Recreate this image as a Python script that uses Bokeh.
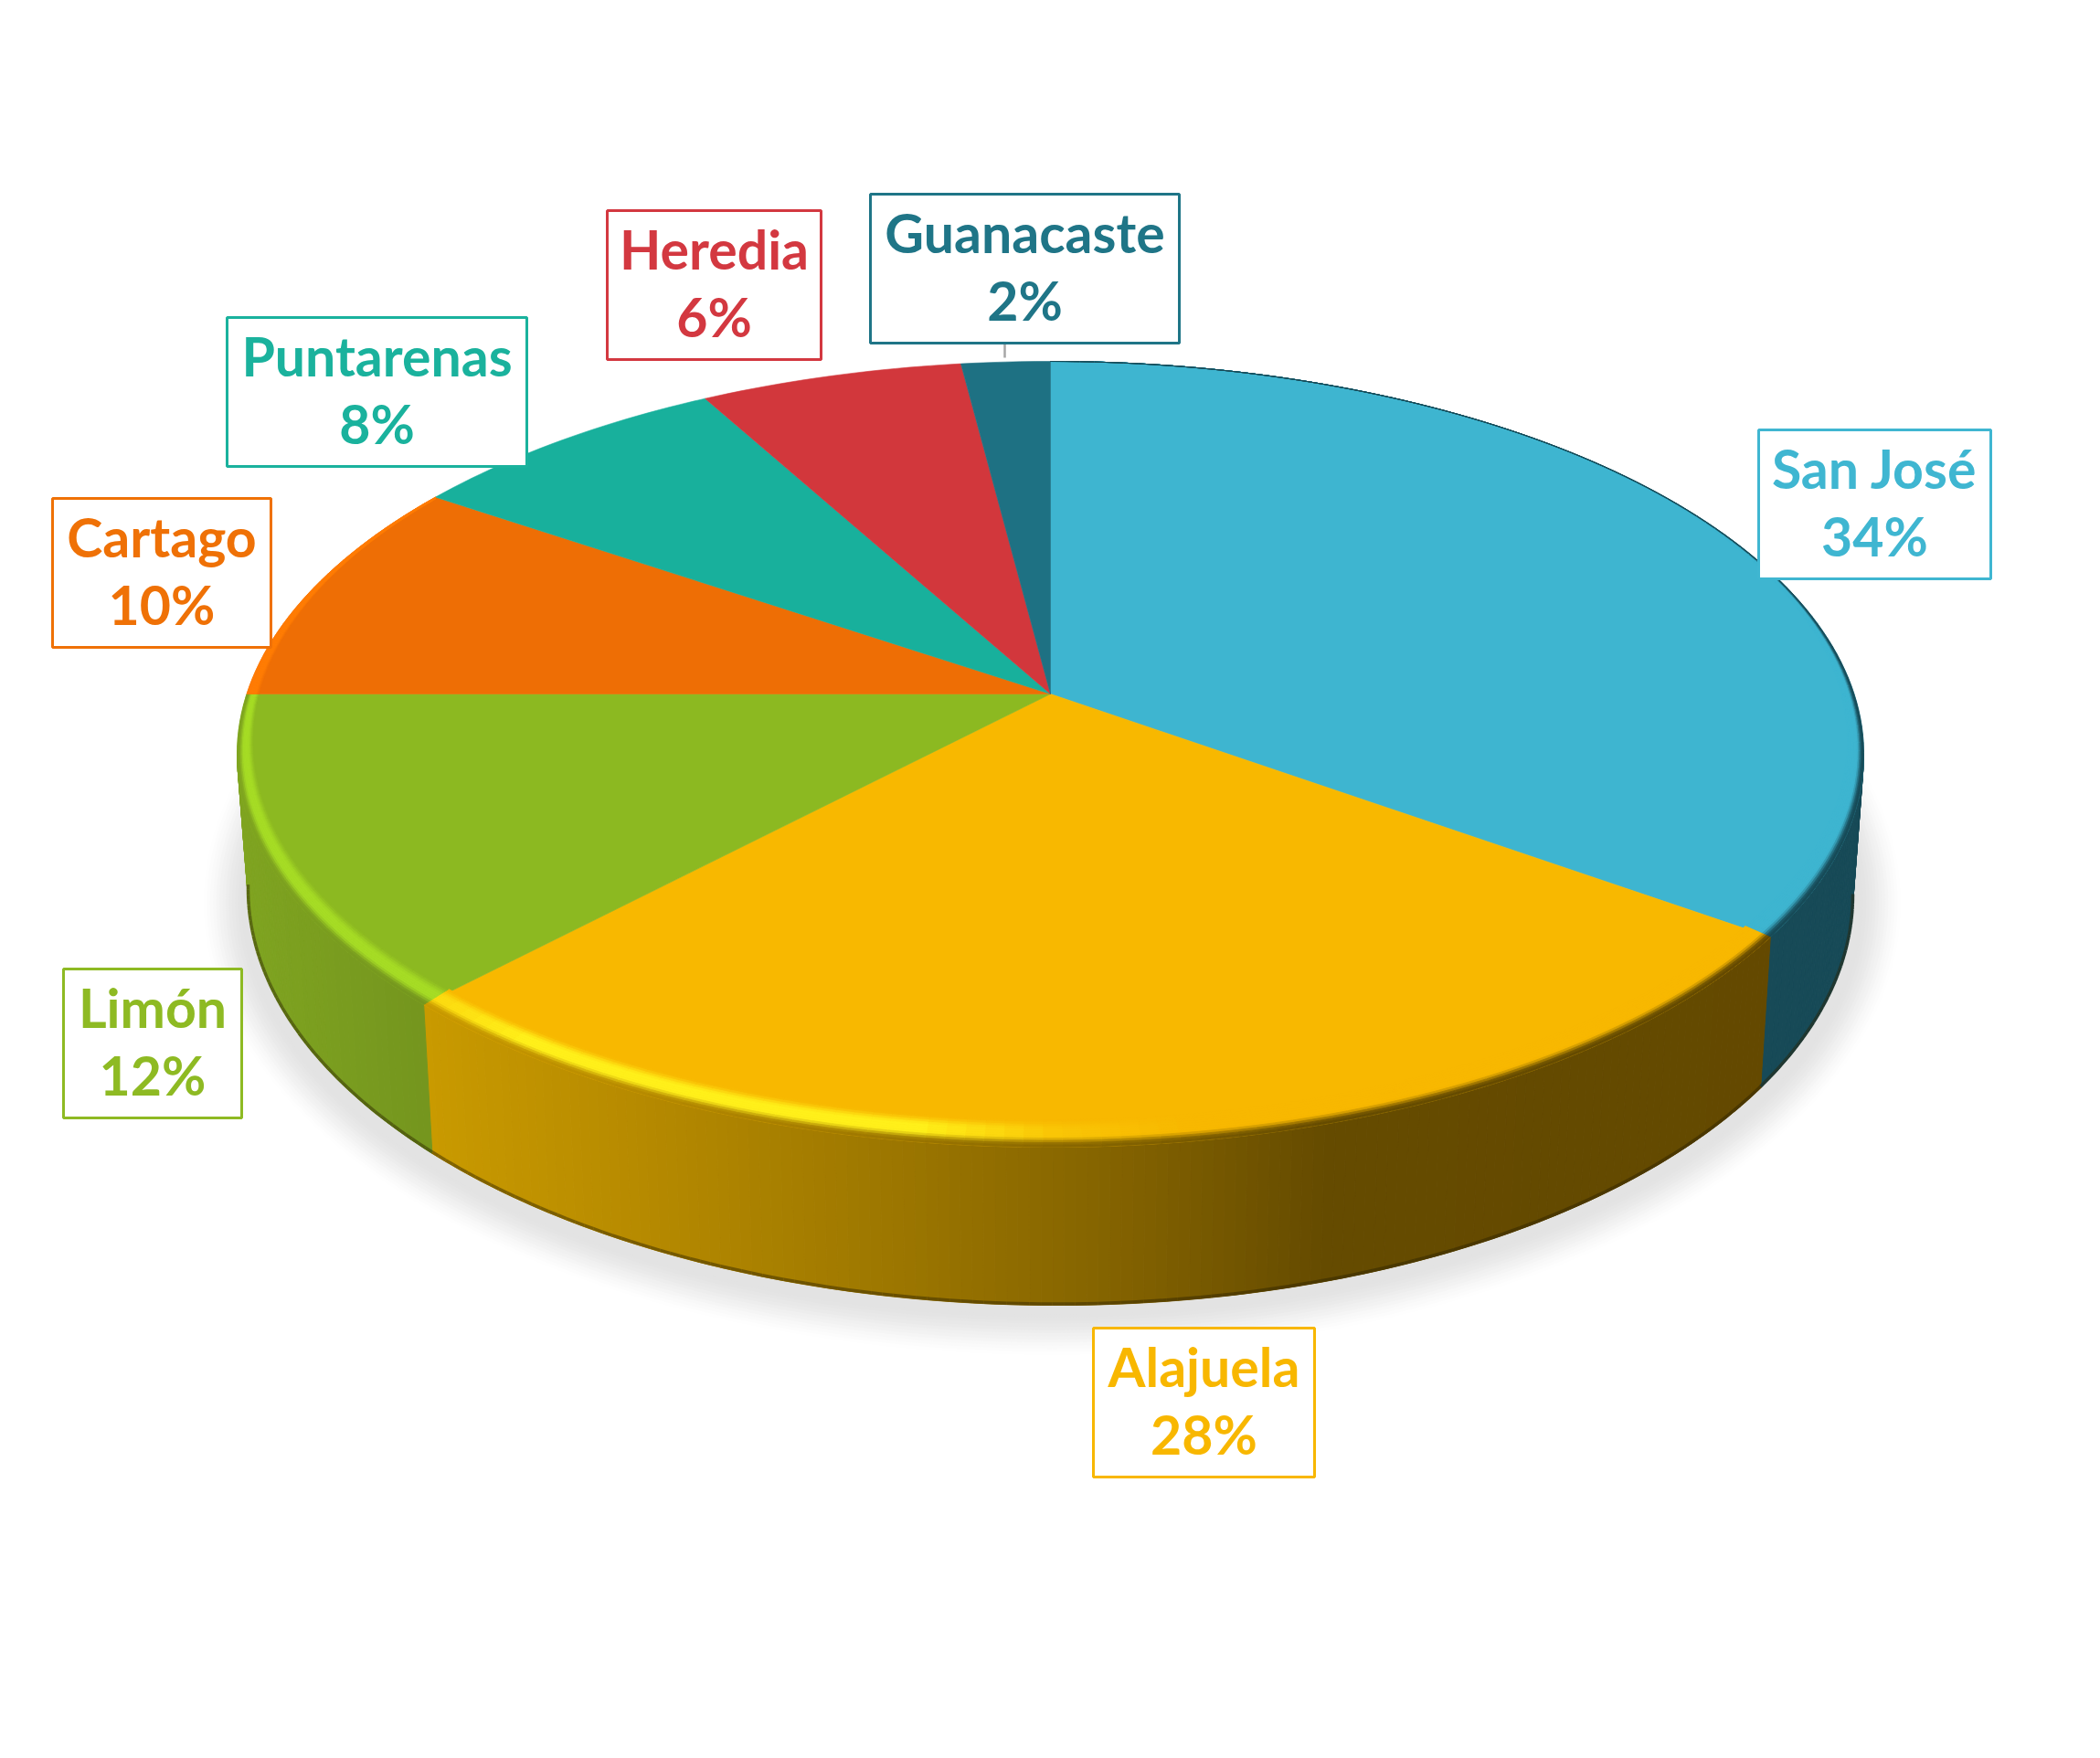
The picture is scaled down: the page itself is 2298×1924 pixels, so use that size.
import numpy as np
from bokeh.plotting import figure
from bokeh.models import Range1d, ColumnDataSource
from bokeh.core.properties import value
from bokeh.embed import file_html
from bokeh.resources import INLINE

# ---- data ----
provinces = ["San José", "Alajuela", "Limón", "Cartago", "Puntarenas", "Heredia", "Guanacaste"]
percent_labels = ["34%", "28%", "12%", "10%", "8%", "6%", "2%"]
shares = [34.8, 27.4, 12.8, 9.4, 7.5, 6.05, 2.05]   # slice sizes as measured on the drawing
face_colors = ["#3eb5d0", "#f8b800", "#8cb921", "#ee6e05", "#18b09c", "#d2373c", "#1e7183"]
text_colors = ["#3fb6d1", "#f8b700", "#8eba23", "#ef7106", "#1ab29d", "#d33840", "#1f7587"]

# ---- layout (page pixels) ----
box_left = [1924, 1196, 69, 57, 248, 664, 952]
box_right = [2178, 1438, 264, 296, 576, 898, 1290]
box_top = [470, 1453, 1060, 545, 347, 230, 212]
box_height = 163
FONT = "Lato"
FONT_SIZE = "59px"

PX, PY = 1149.0, 759.0                     # apex of the slices


def persp(theta, down, up, half_w):
    """circle angle (clockwise from 12 o'clock) -> page pixels, in perspective"""
    a = (down / up - 1) / (down / up + 1)
    b = down * (1 - a)
    aa = half_w * np.sqrt(1 - a * a)
    u, v = np.sin(theta), -np.cos(theta)
    w = 1 - a * v
    return PX + aa * u / w, PY + b * v / w


def outer(t):
    return persp(t, 1255 - PY, PY - 395, 890)


def inner(t):
    return persp(t, 1225 - PY, PY - 395, 872)


def wall_bottom(t):
    x, y = outer(t)
    c = np.clip((x - PX) / 890, -1, 1)
    s = np.sqrt(1 - c * c) * np.where(y >= 825, 1, -1)
    xb = PX + 878 * c
    return xb, 977 + 451 * s + 0.004 * (xb - PX)


def hexrgb(h):
    return np.array([int(h[i:i + 2], 16) for i in (1, 3, 5)], float)


def mix(c1, c2, t):
    t = float(np.clip(t, 0, 1))
    r = hexrgb(c1) * (1 - t) + hexrgb(c2) * t
    return "#%02x%02x%02x" % tuple(int(round(q)) for q in r)


def ramp(stops, x):
    xs = [s[0] for s in stops]
    if x <= xs[0]:
        return stops[0][1]
    for (x0, c0), (x1, c1) in zip(stops, stops[1:]):
        if x <= x1:
            return mix(c0, c1, (x - x0) / (x1 - x0))
    return stops[-1][1]


WALL = {
    0: [(0, "#174a57"), (2300, "#174a57")],
    1: [(463, "#c99a00"), (700, "#b68a00"), (1000, "#9a7500"), (1250, "#806000"), (1450, "#654b00"), (2300, "#634800")],
    2: [(259, "#7fa420"), (470, "#74951e")],
    3: [(0, "#ff7b05"), (2300, "#ff7b05")],
}
HILITE = {0: "#3eb5d0", 1: "#fff01a", 2: "#a6dc25", 3: "#ff7c04"}


def hilite_amount(i, x):
    if i == 1:
        return float(np.interp(x, [463, 560, 1000, 1150, 1300], [0.6, 1, 1, 0.25, 0]))
    return 0.0 if i == 0 else 1.0


def smooth(t):
    t = np.clip(t, 0, 1)
    return t * t * (3 - 2 * t)


fig = figure(width=2282, height=1908, x_range=Range1d(0, 2282), y_range=Range1d(1908, 0),
             output_backend="svg", toolbar_location=None, min_border=0,
             outline_line_color=None, background_fill_color="white", border_fill_color="white")
fig.axis.visible = False
fig.grid.visible = False

# soft shadow under the disc
for k, grow in enumerate(np.linspace(36, -12, 15)):
    fig.ellipse(x=[PX + 2], y=[988], width=2 * (896 + grow), height=2 * (462 + grow),
                fill_color=mix("#ffffff", "#e3e3e3", smooth((k + 1) / 15)), line_color=None)

cum = np.cumsum([0] + shares) / sum(shares) * 2 * np.pi

# outer wall, in thin vertical strips
wx, wy, wc, ex, ey, ec = [], [], [], [], [], []
for i in range(3):
    tt = np.arange(cum[i], cum[i + 1], np.radians(0.7))
    tt = np.append(tt, cum[i + 1])
    for t0, t1 in zip(tt[:-1], tt[1:]):
        xa, ya = outer(t0)
        xb, yb = outer(t1)
        if ya < 826 and yb < 826:
            continue
        xc, yc = wall_bottom(t0)
        xd, yd = wall_bottom(t1)
        col = ramp(WALL[i], (xa + xb) / 2)
        wx.append([xa, xb, xd, xc])
        wy.append([ya, yb, yd, yc])
        wc.append(col)
        ex.append([xc, xd])
        ey.append([yc - 1.5, yd - 1.5])
        ec.append(mix(col, "#2a2000", 0.45))
fig.patches(xs="x", ys="y", fill_color="c", line_color="c", line_width=1,
            source=ColumnDataSource(dict(x=wx, y=wy, c=wc)))
fig.multi_line(xs="x", ys="y", line_color="c", line_width=3.5,
               source=ColumnDataSource(dict(x=ex, y=ey, c=ec)))

# flat top
fx, fy = [], []
for i in range(len(shares)):
    tt = np.linspace(cum[i], cum[i + 1], max(4, int(np.degrees(cum[i + 1] - cum[i]))))
    xs, ys = outer(tt)
    fx.append([PX] + list(xs))
    fy.append([PY] + list(ys))
fig.patches(xs="x", ys="y", fill_color="c", line_color="c", line_width=0.6,
            source=ColumnDataSource(dict(x=fx, y=fy, c=face_colors)))

# bevel between the top and the wall
bands = np.linspace(0, 1, 13)
rx, ry, rc = [], [], []
for i in range(4):
    tt = np.arange(cum[i], cum[i + 1], np.radians(1.2))
    tt = np.append(tt, cum[i + 1])
    for t0, t1 in zip(tt[:-1], tt[1:]):
        ia, ja = inner(t0)
        ib, jb = inner(t1)
        oa, pa = outer(t0)
        ob, pb = outer(t1)
        xm = (oa + ob) / 2
        H = mix(face_colors[i], HILITE[i], hilite_amount(i, xm))
        W = ramp(WALL[i], xm)
        for b0, b1 in zip(bands[:-1], bands[1:]):
            m = (b0 + b1) / 2
            if m < 0.5:
                col = mix(face_colors[i], H, smooth(m / 0.38))
            else:
                col = mix(H, W, smooth((m - 0.6) / 0.34))
            rx.append([ia + (oa - ia) * b0, ib + (ob - ib) * b0, ib + (ob - ib) * b1, ia + (oa - ia) * b1])
            ry.append([ja + (pa - ja) * b0, jb + (pb - jb) * b0, jb + (pb - jb) * b1, ja + (pa - ja) * b1])
            rc.append(col)
fig.patches(xs="x", ys="y", fill_color="c", line_color="c", line_width=0.8,
            source=ColumnDataSource(dict(x=rx, y=ry, c=rc)))

# leader line of the smallest slice
fig.segment(x0=[1099], y0=[376], x1=[1099], y1=[391], line_color="#a6a6a6", line_width=2.5)

# labels
fig.quad(left=box_left, right=box_right, top=box_top, bottom=[t + box_height for t in box_top],
         fill_color="white", line_color=text_colors, line_width=3)
cx = [(a + b) / 2 for a, b in zip(box_left, box_right)]
fig.text(x=cx, y=[t + 42 for t in box_top], text=provinces, text_color=text_colors,
         text_font=value(FONT), text_font_style="bold", text_font_size=FONT_SIZE,
         text_align="center", text_baseline="alphabetic")
fig.text(x=cx, y=[t + 116 for t in box_top], text=percent_labels, text_color=text_colors,
         text_font=value(FONT), text_font_style="bold", text_font_size=FONT_SIZE,
         text_align="center", text_baseline="alphabetic")

open("out.html", "w").write(file_html(fig, INLINE))
